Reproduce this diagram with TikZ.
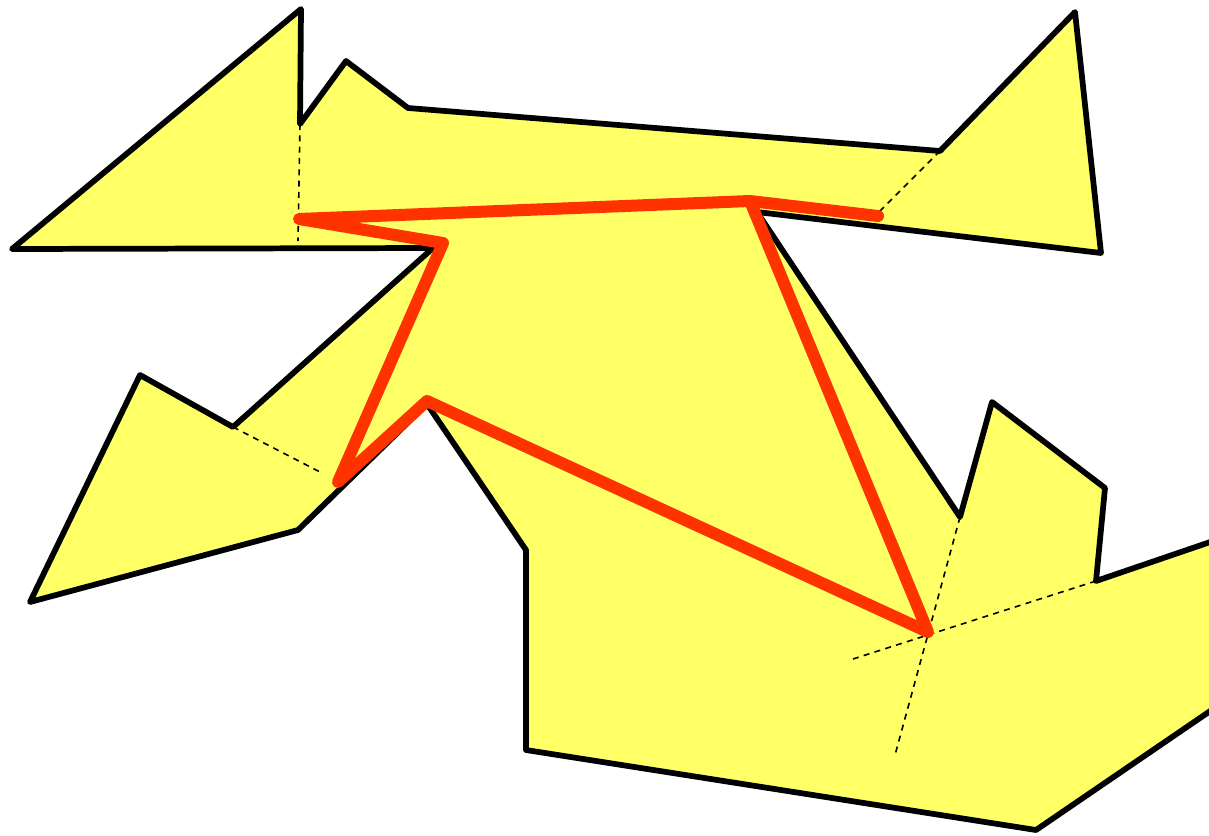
\documentclass[tikz,border=0pt]{standalone}
\usetikzlibrary{calc}
\definecolor{polyfill}{HTML}{FFFF66}
\definecolor{pathred}{HTML}{FF3300}
\tikzset{
  outline/.style={draw=black,fill=polyfill,line width=4.3pt,line join=round},
  guide/.style={draw=black,line width=1.2pt,dash pattern=on 4.5pt off 4pt},
  redpath/.style={draw=pathred,line width=9pt,line join=round,line cap=round}
}
\begin{document}
\begin{tikzpicture}[x=0.75pt,y=-0.75pt]
\useasboundingbox (0,0) rectangle (1209,835);
\clip (0,0) rectangle (1209,835);
% polygon vertices
\coordinate (p1) at (301,9);
\coordinate (p2) at (300,124);
\coordinate (p3) at (346,61);
\coordinate (p4) at (408,108);
\coordinate (p5) at (940,151);
\coordinate (p6) at (1075,12);
\coordinate (p7) at (1101,253);
\coordinate (p8) at (757,212);
\coordinate (p9) at (960,517);
\coordinate (p10) at (992,402);
\coordinate (p11) at (1105,488);
\coordinate (p12) at (1096,581);
\coordinate (p13) at (1260,525);
\coordinate (p14) at (1260,677);
\coordinate (p15) at (1036,830);
\coordinate (p16) at (526,750);
\coordinate (p17) at (526,550);
\coordinate (p18) at (427,404);
\coordinate (p19) at (298,530);
\coordinate (p20) at (30,602);
\coordinate (p21) at (140,375);
\coordinate (p22) at (233,427);
\coordinate (p23) at (433,248);
\coordinate (p24) at (12,249);
\path[outline] (p1)--(p2)--(p3)--(p4)--(p5)--(p6)--(p7)--(p8)--(p9)--(p10)--(p11)--(p12)--(p13)--(p14)--(p15)--(p16)--(p17)--(p18)--(p19)--(p20)--(p21)--(p22)--(p23)--(p24)--cycle;
% guide (dashed) lines
\coordinate (d1) at (298,241);
\coordinate (d2) at (872,219);
\coordinate (d3) at (320,472);
\coordinate (d4) at (895,755);
\coordinate (d5) at (853,659);
\draw[guide] (p2) -- (d1);
\draw[guide] (p5) -- (d2);
\draw[guide] (p22) -- (d3);
\draw[guide] (p9) -- (d4);
\draw[guide] (p12) -- (d5);
% red path
\coordinate (r1) at (878,216);
\coordinate (r2) at (750,201);
\coordinate (r3) at (299,219);
\coordinate (r4) at (443,243);
\coordinate (r5) at (338,482);
\coordinate (r6) at (427,401);
\coordinate (r7) at (928,632);
\draw[redpath] (r1)--(r2)--(r3)--(r4)--(r5)--(r6)--(r7)--(r2);
\end{tikzpicture}
\end{document}
